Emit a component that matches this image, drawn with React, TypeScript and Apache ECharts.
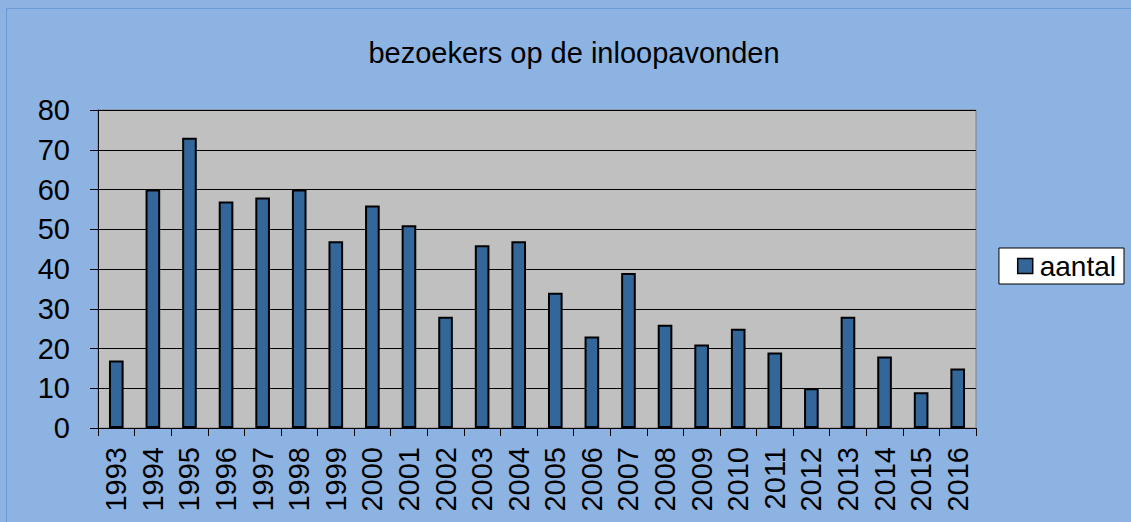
import React, { useEffect, useRef } from "react";
import * as echarts from "echarts";

const title = "bezoekers op de inloopavonden";
const seriesName = "aantal";
const years = ["1993","1994","1995","1996","1997","1998","1999","2000","2001","2002","2003","2004","2005","2006","2007","2008","2009","2010","2011","2012","2013","2014","2015","2016"];
const values = [17, 60, 73, 57, 58, 60, 47, 56, 51, 28, 46, 47, 34, 23, 39, 26, 21, 25, 19, 10, 28, 18, 9, 15];
const yTicks = [0, 10, 20, 30, 40, 50, 60, 70, 80];

export default function App() {
  const ref = useRef<HTMLDivElement>(null);
  useEffect(() => {
    if (!ref.current) return;
    const chart = echarts.init(ref.current, null, { renderer: "svg" });
    const font = "'Liberation Sans', Arial, sans-serif";
    chart.setOption({
      animation: false,
      backgroundColor: "#8DB3E2",
      title: {
        text: title,
        left: 569,
        top: 33,
        textAlign: "center",
        textStyle: { fontFamily: font, fontSize: 29, fontWeight: "normal", color: "#000" },
      },
      legend: {
        data: [{ name: seriesName }],
        right: 7,
        top: 248,
        orient: "vertical",
        itemWidth: 15,
        itemHeight: 15,
        itemGap: 0,
        padding: [4, 8, 4, 18],
        backgroundColor: "#FFFFFF",
        borderColor: "#000",
        borderWidth: 1,
        icon: "rect",
        itemStyle: { borderColor: "#000", borderWidth: 1.5 },
        textStyle: { fontFamily: font, fontSize: 28, color: "#000", padding: [0, 0, 0, 2] },
      },
      grid: {
        left: 98,
        right: 155,
        top: 110,
        bottom: 94,
        show: true,
        backgroundColor: "#C0C0C0",
        borderColor: "#808080",
        borderWidth: 1,
      },
      xAxis: {
        type: "category",
        data: years,
        axisLine: { lineStyle: { color: "#000", width: 1 } },
        axisTick: { show: true, length: 8, alignWithLabel: false, lineStyle: { color: "#000" } },
        axisLabel: {
          rotate: 90,
          interval: 0,
          fontFamily: font,
          fontSize: 29,
          color: "#000",
          margin: 19,
        },
        splitLine: { show: false },
      },
      yAxis: {
        type: "value",
        min: 0,
        max: 80,
        interval: 10,
        axisLine: { show: true, lineStyle: { color: "#000", width: 1 } },
        axisTick: { show: true, length: 8, lineStyle: { color: "#000" } },
        axisLabel: {
          fontFamily: font,
          fontSize: 29,
          color: "#000",
          margin: 28,
          formatter: (v: number) => (yTicks.includes(v) ? String(v) : ""),
        },
        splitLine: { show: true, lineStyle: { color: "#000", width: 1 } },
      },
      series: [
        {
          name: seriesName,
          type: "bar",
          data: values,
          barCategoryGap: "60%",
          itemStyle: { color: "#336699", borderColor: "#000", borderWidth: 2 },
        },
      ],
      graphic: [
        {
          type: "rect",
          shape: { x: 6.5, y: 8.5, width: 1140, height: 530 },
          style: { fill: "none", stroke: "#6C9AD6", lineWidth: 1 },
          silent: true,
        },
      ],
    });
    return () => chart.dispose();
  }, []);
  return (
    <div
      ref={ref}
      style={{ position: "fixed", left: 0, top: 0, width: 1131, height: 522 }}
    />
  );
}
